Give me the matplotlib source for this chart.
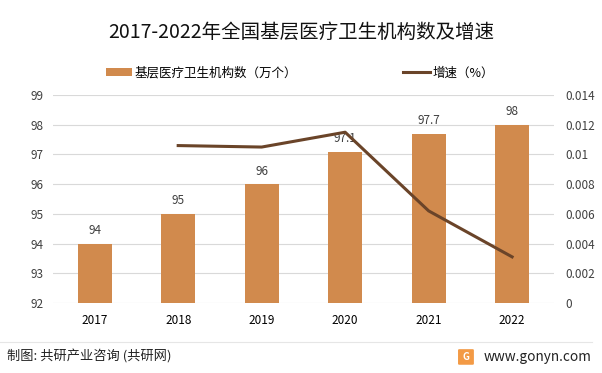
import matplotlib.pyplot as plt
import matplotlib.patches as mpatches
from matplotlib.ticker import FuncFormatter

plt.rcParams['font.family'] = ['Noto Sans CJK SC', 'DejaVu Sans']

# data
years = ['2017', '2018', '2019', '2020', '2021', '2022']
counts = [94, 95, 96, 97.1, 97.7, 98]
count_labels = ['94', '95', '96', '97.1', '97.7', '98']
growth_years = ['2018', '2019', '2020', '2021', '2022']
growth = [0.0106, 0.0105, 0.0115, 0.0062, 0.0031]

bar_color = '#D18A4D'
line_color = '#6A4429'
grid_color = '#D9D9D9'
text_color = '#404040'

fig = plt.figure(figsize=(6.02, 3.73), dpi=100)
ax = fig.add_axes([0.088, 0.188, 0.832, 0.557])
ax2 = ax.twinx()

x = list(range(len(years)))
bars = ax.bar(x, counts, width=0.41, color=bar_color, zorder=2,
              label='基层医疗卫生机构数（万个）')
for xi, v, lab in zip(x, counts, count_labels):
    ax.text(xi, v + 0.22, lab, ha='center', va='bottom', fontsize=8.5, color=text_color)

gx = [years.index(y) for y in growth_years]
line, = ax2.plot(gx, growth, color=line_color, linewidth=2.2, zorder=3, label='增速（%）')

ax.set_ylim(92, 99)
ax.set_yticks(range(92, 100))
ax2.set_ylim(0, 0.014)
ax2.set_yticks([0, 0.002, 0.004, 0.006, 0.008, 0.01, 0.012, 0.014])
ax2.yaxis.set_major_formatter(FuncFormatter(lambda v, p: '%g' % round(v, 3)))
ax.set_xlim(-0.5, 5.5)
ax.set_xticks(x)
ax.set_xticklabels(years)

ax.grid(axis='y', color=grid_color, linewidth=0.8, zorder=0)
ax.set_axisbelow(True)
for a in (ax, ax2):
    for s in a.spines.values():
        s.set_visible(False)
    a.tick_params(length=0, labelsize=8.5, colors=text_color)
ax.tick_params(axis='y', pad=7)
ax2.tick_params(axis='y', pad=8)
ax.tick_params(axis='x', pad=8, labelcolor='#000000')

fig.text(0.5, 0.914, '2017-2022年全国基层医疗卫生机构数及增速', ha='center', va='center',
         fontsize=14, color='#111111')

fig.legend(handles=[bars, line], loc='center left', bbox_to_anchor=(0.176, 0.804),
           ncol=2, frameon=False, fontsize=9, handlelength=2.1, handleheight=0.6,
           columnspacing=8.5, handletextpad=0.2, borderpad=0, borderaxespad=0)

# footer
fig.add_artist(plt.Line2D([0.0, 0.983], [0.083, 0.083], color='#E6E6E6', linewidth=0.8))
fig.text(0.012, 0.043, '制图: 共研产业咨询 (共研网)', ha='left', va='center',
         fontsize=9.5, color='#222222')
fig.text(0.983, 0.043, 'www.gonyn.com', ha='right', va='center', fontsize=9.8,
         color='#222222')
fig.add_artist(mpatches.FancyBboxPatch((0.763, 0.025), 0.022, 0.036, boxstyle='round,pad=0.001',
                                       transform=fig.transFigure, color='#F39A45'))
fig.text(0.774, 0.043, 'G', ha='center', va='center', fontsize=7, color='white',
         fontweight='bold')

fig.savefig('out.png', dpi=100)
